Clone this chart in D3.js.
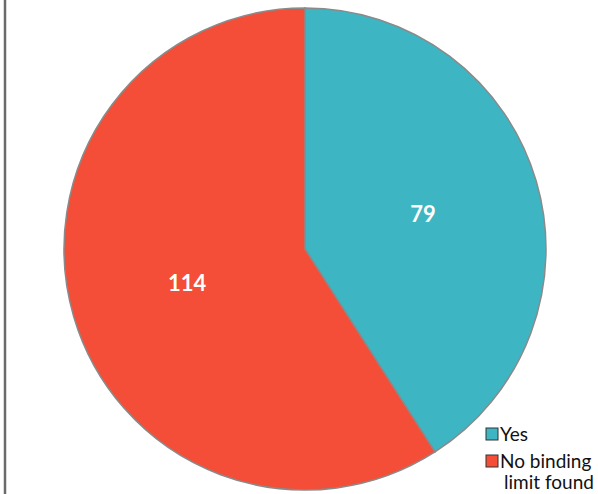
<!DOCTYPE html>
<html><head><meta charset="utf-8">
<script src="https://cdn.jsdelivr.net/npm/d3@7"></script>
<style>body{margin:0;background:#fff;}svg{display:block;}</style>
</head><body>
<script>
const categories = ["Yes", "No binding limit found"];
const values = [79, 114];
const colors = ["#3DB5C2", "#F44E38"];
const legendLines = [["Yes"], ["No binding", "limit found"]];

const W = 598, H = 494;
const svg = d3.select("body").append("svg").attr("width", W).attr("height", H);

// left frame line
svg.append("line").attr("x1", 5).attr("x2", 5).attr("y1", 0).attr("y2", H)
  .attr("stroke", "#6b6b6b").attr("stroke-width", 2.5);

// cropped title descender (title is cut off at the top in the reference)
svg.append("text").attr("x", 80).attr("y", -3).attr("font-family", "Lato, sans-serif")
  .attr("font-size", 20).attr("fill", "#222").text("g");

const cx = 305, cy = 249, r = 241;
const pie = d3.pie().sort(null).value(d => d)(values);
const arc = d3.arc().innerRadius(0).outerRadius(r);
const g = svg.append("g").attr("transform", `translate(${cx},${cy})`);
g.selectAll("path").data(pie).join("path")
  .attr("d", arc).attr("fill", (d, i) => colors[i])
  .attr("stroke", "#8a8a8a").attr("stroke-width", 1.5);

const labelArc = d3.arc().innerRadius(r * 0.51).outerRadius(r * 0.51);
g.selectAll("text.val").data(pie).join("text").attr("class", "val")
  .attr("transform", d => `translate(${labelArc.centroid(d)})`)
  .attr("text-anchor", "middle").attr("dy", "0.36em")
  .attr("font-family", "Lato, sans-serif").attr("font-weight", "bold")
  .attr("font-size", 22).attr("fill", "#fff").text(d => d.data);

// legend
const leg = svg.append("g").attr("transform", "translate(486,428)");
const rows = [0, 27];
categories.forEach((c, i) => {
  const row = leg.append("g").attr("transform", `translate(0,${rows[i]})`);
  row.append("rect").attr("x", 0).attr("y", 0).attr("width", 12).attr("height", 12)
    .attr("fill", colors[i]).attr("stroke", "#333").attr("stroke-width", 1);
  legendLines[i].forEach((t, j) => {
    row.append("text").attr("x", j === 0 ? 14 : 63).attr("y", 13 + j * 21)
      .attr("text-anchor", j === 0 ? "start" : "middle")
      .attr("font-family", "Lato, sans-serif").attr("font-size", 19)
      .attr("fill", "#111").text(t);
  });
});
</script>
</body></html>
